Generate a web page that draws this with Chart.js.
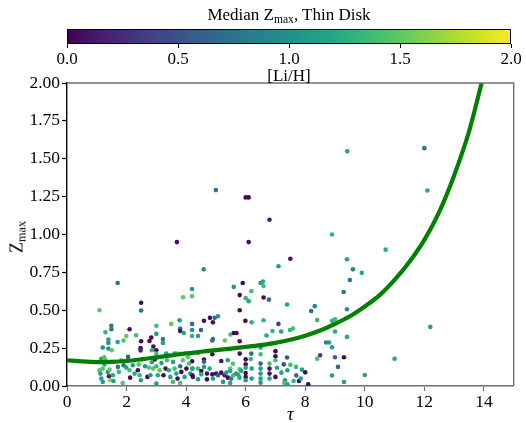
<!DOCTYPE html>
<html><head><meta charset="utf-8">
<script src="https://cdn.jsdelivr.net/npm/chart.js@4/dist/chart.umd.min.js"></script>
<style>
html,body{margin:0;padding:0;background:#fff;}
#wrap{position:relative;width:526px;height:423px;overflow:hidden;font-family:"Liberation Serif",serif;color:#000;}
canvas{position:absolute;left:0;top:0;}
#cbtitle{position:absolute;left:0;top:5px;width:578px;text-align:center;font-size:17px;line-height:20px;white-space:nowrap;}
#ylab{position:absolute;left:17px;top:237px;transform:translate(-50%,-50%) rotate(-90deg);font-size:18px;white-space:nowrap;}
sub{font-size:68%;vertical-align:baseline;position:relative;top:0.28em;}
</style></head>
<body>
<div id="wrap">
<canvas id="main" width="526" height="423"></canvas>
<canvas id="cbar" width="526" height="90"></canvas>
<div id="cbtitle">Median Z<sub>max</sub>, Thin Disk</div>
<div id="ylab">Z<sub>max</sub></div>
</div>
<script>
// ---- data ----
const xTickValues = [0, 2, 4, 6, 8, 10, 12, 14];
const yTickValues = [0, 0.25, 0.5, 0.75, 1.0, 1.25, 1.5, 1.75, 2.0];
const cbTickValues = [0, 0.5, 1.0, 1.5, 2.0];
const cbMin = 0, cbMax = 2;

const curveTau = [0,0.5,1,1.5,2,2.5,3,3.5,4,4.5,5,5.5,6,6.5,7,7.5,8,8.5,9,9.5,10,10.5,11,11.5,12,12.5,13,13.5,14];
const curveZ   = [0.170,0.162,0.158,0.159,0.165,0.176,0.189,0.202,0.215,0.226,0.237,0.247,0.258,0.270,0.285,0.305,0.332,0.366,0.41,0.46,0.525,0.60,0.70,0.82,0.965,1.15,1.39,1.68,2.06];

const tau = [
 9.41,5.0,6.0,6.1,6.8,8.9,3.69,6.1,7.5,9.4, 12.0,12.1,10.7,9.6,4.59,7.1,9.9,9.5,9.29,8.32, 9.4,8.4,8.9,9.0,9.0,9.4,12.2,8.7,8.8,8.9, 8.5,8.4,9.0,9.3,11.0,9.1,8.9,10.0,9.3,
 4.2,4.2,5.6,5.9,6.5,6.58,6.6,5.8,6.19,6.0, 6.1,6.6,6.78,7.39,5.8,5.07,4.96,4.8,4.6,4.9, 4.2,5.99,6.2,6.6,7.1,8.2, 7.49,7.59,6.9,7.19,4.2,4.2,4.4,4.5,5.49,5.6, 5.69,4.9,4.88,5.3,5.8,6.7,
 4.1,4.4,4.6,4.6,4.88,4.2,5.18,5.8,6.19,6.17, 6.5,6.5,7.0,7.0,7.39,7.0,7.28, 7.69,7.89,7.2,7.4,7.7,7.0,7.32,7.61,7.79,7.4,8.1,
 6.0,6.0,6.0,6.0,6.0,6.0,6.2,6.2,6.5,6.5, 6.5,6.5,6.5,6.8,6.8,6.8,6.8,5.8,5.85,5.75,
 1.7,1.09,2.49,2.49,3.9,1.49,1.49,1.29,2.1,2.32, 3.0,3.0,2.83,3.78,3.5,3.8,3.8,3.92,1.39,1.39, 1.7,1.99,2.49,2.77,2.9,2.47,2.47,3.22,3.22,1.2, 1.39,1.5,2.85,3.0,3.0,3.33,3.61,3.72,4.06,1.9,
 1.09,1.12,1.15,1.20,1.26,1.29,1.37,1.41,1.43,1.45, 1.54,1.56,1.71,1.74,1.82,1.90,1.99,2.05,2.10,2.12, 2.21,2.27,2.38,2.41,2.44,2.48,2.55,2.62,2.70,2.75, 2.80,2.85,2.89,2.95,3.0,3.05,3.11,3.17,3.24,3.31, 3.36,3.42,3.47,3.56,3.61,3.67,3.71,3.80,3.84,3.89, 3.95,4.01,4.10,4.14,4.21,4.23,1.2,1.87,3.0,3.56, 3.8,1.15,1.25,
 4.21,4.40,4.51,4.60,4.70,4.79,4.88,5.01,5.07,5.18, 5.29,5.35,5.40,5.48,5.48,5.51,5.59,5.68,5.79,4.21, 4.40,4.51,4.70,4.90,5.24,5.48,5.40,5.57,7.05,7.5, 7.85,8.0,7.3
];
const zmax = [
 1.549,1.293,1.245,1.245,1.097,1.0,0.95,0.95,0.84,0.837, 1.57,1.29,0.90,0.77,0.77,0.79,0.747,0.70,0.62,0.527, 0.507,0.436,0.43,0.44,0.36,0.324,0.39,0.287,0.287,0.256, 0.203,0.18,0.19,0.19,0.18,0.126,0.069,0.073,0.026,
 0.64,0.593,0.654,0.68,0.68,0.69,0.66,0.60,0.626,0.58, 0.56,0.584,0.57,0.538,0.50,0.46,0.45,0.45,0.43,0.42, 0.41,0.43,0.42,0.434,0.41,0.495, 0.37,0.38,0.363,0.36,0.37,0.33,0.33,0.37,0.34,0.35, 0.35,0.31,0.30,0.30,0.295,0.333,
 0.214,0.218,0.175,0.16,0.21,0.163,0.165,0.214,0.214,0.178, 0.254,0.21,0.23,0.196,0.188,0.17,0.143, 0.126,0.108,0.088,0.104,0.07,0.06,0.038,0.033,0.033,0.011,0.011,
 0.176,0.143,0.121,0.086,0.06,0.038,0.115,0.049,0.148,0.115, 0.082,0.049,0.022,0.148,0.115,0.082,0.049,0.11,0.10,0.075,
 0.68,0.50,0.55,0.498,0.586,0.397,0.375,0.355,0.375,0.335, 0.397,0.344,0.32,0.434,0.41,0.38,0.363,0.35,0.306,0.284, 0.29,0.33,0.295,0.297,0.26,0.25,0.235,0.31,0.284,0.254, 0.247,0.236,0.236,0.236,0.214,0.214,0.214,0.214,0.19,0.30,
 0.104,0.082,0.049,0.115,0.143,0.170,0.093,0.064,0.108,0.038, 0.071,0.033,0.126,0.093,0.170,0.137,0.122,0.192,0.104,0.055, 0.137,0.082,0.104,0.143,0.071,0.038,0.178,0.130,0.060,0.122, 0.071,0.157,0.115,0.176,0.130,0.071,0.104,0.152,0.071,0.115, 0.170,0.104,0.060,0.159,0.115,0.082,0.049,0.130,0.093,0.170, 0.060,0.115,0.148,0.082,0.115,0.060,0.027,0.02,0.016,0.027, 0.02,0.18,0.19,
 0.115,0.115,0.099,0.126,0.082,0.115,0.077,0.082,0.071,0.088, 0.071,0.088,0.055,0.115,0.099,0.049,0.071,0.082,0.055,0.071, 0.044,0.077,0.044,0.049,0.027,0.020,0.17,0.147,0.12,0.14, 0.05,0.09,0.02
];
const liH = [
 1.2,0.7,0.05,0.05,0.15,1.3,0.05,0.05,0.05,1.2, 0.75,1.2,1.25,0.9,1.0,1.1,1.2,0.7,0.75,0.9, 1.0,1.3,1.3,1.35,1.25,1.25,1.15,0.9,1.1,1.1, 0.35,1.4,0.7,0.05,1.15,0.7,1.15,1.15,1.1,
 1.1,1.5,1.1,0.05,1.1,1.15,1.4,0.05,1.4,1.3, 1.2,0.05,0.7,1.15,0.05,1.1,0.7,0.05,0.1,0.1, 0.7,0.05,1.3,1.3,0.4,0.7, 1.3,1.4,1.3,1.2,1.0,1.3,1.15,0.6,1.4,0.05, 0.05,0.7,0.7,1.5,0.05,1.2,
 1.1,1.3,0.05,0.6,0.05,0.05,0.1,0.05,0.7,1.3, 1.15,1.4,0.05,0.05,0.6,1.4,0.5, 1.4,1.15,1.15,1.1,0.7,0.05,1.1,1.3,0.05,1.1,0.05,
 0.05,0.05,1.15,0.05,0.05,1.1,1.15,1.1,0.7,1.15, 1.1,1.15,1.1,1.4,0.05,0.1,1.15,1.45,1.15,1.3,
 0.75,1.5,0.05,0.7,1.5,0.75,0.8,1.3,0.05,1.4, 1.4,1.1,0.05,1.1,1.5,0.75,0.05,1.2,1.1,1.0, 1.15,1.5,0.05,0.05,0.1,0.05,0.2,0.8,1.1,1.0, 1.1,1.5,1.3,0.05,1.4,1.15,1.1,1.45,1.5,1.45,
 1.5,1.15,1.1,1.45,1.2,1.4,1.1,0.1,1.5,1.6, 1.2,1.1,0.75,1.35,1.5,0.7,1.15,0.6,1.4,0.05, 1.1,1.2,0.05,1.45,1.35,1.15,1.2,1.0,0.05,1.45, 1.1,1.15,1.5,0.05,1.35,1.2,1.5,1.1,0.05,0.1, 1.4,1.2,1.1,1.15,1.4,1.2,0.1,0.7,0.05,1.5, 1.2,0.05,1.4,1.15,1.1,0.05,1.1,1.45,1.1,1.4, 1.45,1.15,1.45,
 1.15,1.4,0.05,1.1,0.1,1.2,0.05,0.05,0.6,0.05, 0.15,1.1,0.05,1.5,1.2,0.7,1.4,1.15,1.2,0.05, 1.1,1.2,0.05,1.15,1.1,1.15,1.15,1.45,1.15,1.4, 1.1,0.05,1.4
];

// ---- colormap ----
const VIRIDIS = ['#440154','#482475','#414487','#355f8d','#2a788e','#21918c','#22a884','#44bf70','#7ad151','#bddf26','#fde725'];
function hexRgb(h){return [parseInt(h.slice(1,3),16),parseInt(h.slice(3,5),16),parseInt(h.slice(5,7),16)];}
function viridis(v){
  const t = Math.min(1, Math.max(0, (v - cbMin)/(cbMax - cbMin))) * (VIRIDIS.length - 1);
  const i = Math.min(Math.floor(t), VIRIDIS.length - 2), f = t - i;
  const a = hexRgb(VIRIDIS[i]), b = hexRgb(VIRIDIS[i+1]);
  return 'rgb(' + a.map((c,k)=>Math.round(c + (b[k]-c)*f)).join(',') + ')';
}

Chart.defaults.font.family = "'Liberation Serif', 'Times New Roman', serif";
Chart.defaults.color = '#000';

const framePlugin = {
  id: 'frame',
  afterDatasetsDraw(chart) {
    const {ctx, chartArea: a} = chart;
    ctx.save();
    ctx.strokeStyle = '#707070'; ctx.lineWidth = 1.4;
    ctx.beginPath(); ctx.moveTo(a.left, a.top); ctx.lineTo(a.right, a.top); ctx.lineTo(a.right, a.bottom); ctx.stroke();
    ctx.restore();
  }
};

const pts = tau.map((t, i) => ({x: t, y: zmax[i]}));
const cols = liH.map(viridis);

new Chart(document.getElementById('main'), {
  type: 'scatter',
  data: {
    datasets: [
      { type: 'line', data: curveTau.map((t,i)=>({x:t, y:curveZ[i]})), borderColor: '#008000', borderWidth: 4.2,
        pointRadius: 0, fill: false, cubicInterpolationMode: 'monotone', order: 0 },
      { data: pts, backgroundColor: cols, borderColor: cols, borderWidth: 0, pointRadius: 2.3, order: 1 }
    ]
  },
  options: {
    responsive: false, animation: false, events: [],
    plugins: { legend: { display: false }, tooltip: { enabled: false } },
    layout: { padding: { top: 83, right: 12.3, left: 0, bottom: 0 } },
    scales: {
      x: {
        type: 'linear', min: 0, max: 15,
        afterBuildTicks: s => { s.ticks = xTickValues.map(v => ({value: v})); },
        afterFit: s => { s.height = 37; },
        ticks: { font: { size: 17.5 }, padding: 1, maxRotation: 0, callback: v => String(v) },
        grid: { drawOnChartArea: false, drawTicks: true, tickLength: 5, color: '#707070', tickWidth: 1.2 },
        border: { display: true, color: '#707070', width: 1.6 },
        title: { display: true, text: 'τ', font: { size: 19, style: 'italic', lineHeight: 0.8 }, padding: { top: 0, bottom: 0 } }
      },
      y: {
        type: 'linear', min: 0, max: 2,
        afterBuildTicks: s => { s.ticks = yTickValues.map(v => ({value: v})); },
        afterFit: s => { s.width = 67; },
        ticks: { font: { size: 17.5 }, padding: 2, callback: v => Number(v).toFixed(2) },
        grid: { drawOnChartArea: false, drawTicks: true, tickLength: 5, color: '#000', tickWidth: 1.2 },
        border: { display: true, color: '#000', width: 1.4 }
      }
    }
  },
  plugins: [framePlugin]
});

const cbPlugin = {
  id: 'cbfill',
  beforeDatasetsDraw(chart) {
    const {ctx, chartArea: a} = chart;
    const g = ctx.createLinearGradient(a.left, 0, a.right, 0);
    VIRIDIS.forEach((c, i) => g.addColorStop(i / (VIRIDIS.length - 1), c));
    ctx.save();
    ctx.fillStyle = g;
    ctx.fillRect(a.left, a.top, a.right - a.left, a.bottom - a.top);
    ctx.strokeStyle = '#000'; ctx.lineWidth = 1;
    ctx.strokeRect(a.left + 0.5, a.top + 0.5, a.right - a.left - 1, a.bottom - a.top - 1);
    ctx.restore();
  }
};

new Chart(document.getElementById('cbar'), {
  type: 'scatter',
  data: { datasets: [] },
  options: {
    responsive: false, animation: false, events: [],
    plugins: { legend: { display: false }, tooltip: { enabled: false } },
    layout: { padding: { top: 29, left: 67, right: 15, bottom: 0 } },
    scales: {
      x: {
        type: 'linear', min: cbMin, max: cbMax,
        afterBuildTicks: s => { s.ticks = cbTickValues.map(v => ({value: v})); },
        afterFit: s => { s.height = 46; },
        ticks: { font: { size: 17 }, padding: 1, maxRotation: 0, callback: v => Number(v).toFixed(1) },
        grid: { drawOnChartArea: false, drawTicks: true, tickLength: 4, color: '#000' },
        border: { display: false },
        title: { display: true, text: '[Li/H]', font: { size: 17 }, padding: { top: 0, bottom: 3 } }
      },
      y: { display: false, min: 0, max: 1 }
    }
  },
  plugins: [cbPlugin]
});
</script>
</body></html>
